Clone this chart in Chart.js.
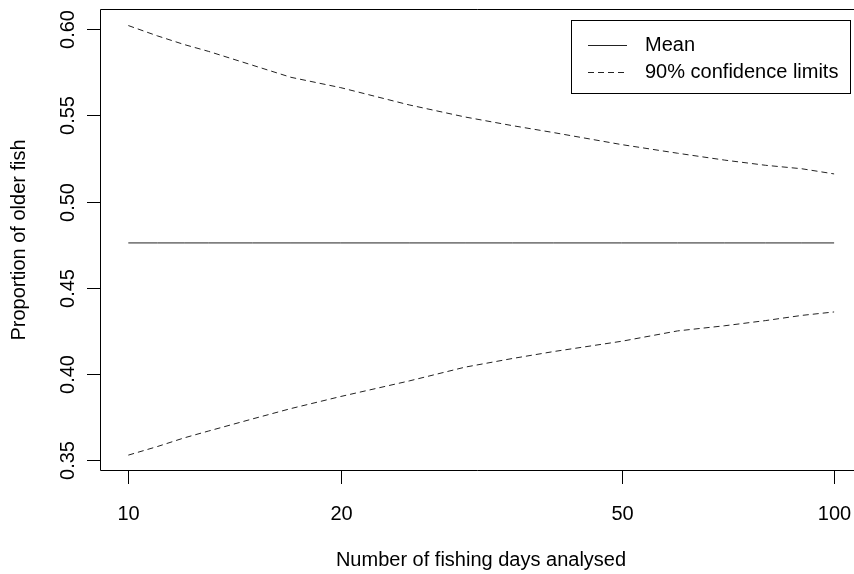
<!DOCTYPE html>
<html>
<head>
<meta charset="utf-8">
<script src="https://cdn.jsdelivr.net/npm/chart.js@4/dist/chart.umd.min.js"></script>
<style>
  html, body { margin: 0; padding: 0; background: #fff; }
  canvas { display: block; }
</style>
</head>
<body>
<canvas id="chart" width="854" height="574"></canvas>
<script>
// number of fishing days (x, log axis)
const days = [10, 11, 12, 13, 15, 17, 20, 25, 30, 35, 40, 50, 60, 70, 80, 90, 100];
// proportion of older fish
const meanProp = [0.476, 0.476, 0.476, 0.476, 0.476, 0.476, 0.476, 0.476, 0.476, 0.476, 0.476, 0.476, 0.476, 0.476, 0.476, 0.476, 0.476];
const upperLimit = [0.602, 0.596, 0.591, 0.587, 0.579, 0.572, 0.566, 0.556, 0.549, 0.544, 0.540, 0.533, 0.528, 0.524, 0.521, 0.519, 0.516];
const lowerLimit = [0.353, 0.358, 0.363, 0.367, 0.374, 0.380, 0.387, 0.396, 0.404, 0.409, 0.413, 0.419, 0.425, 0.428, 0.431, 0.434, 0.436];

const xTicks = [10, 20, 50, 100];
const yTicks = [0.35, 0.40, 0.45, 0.50, 0.55, 0.60];
const yTickLabels = ['0.35', '0.40', '0.45', '0.50', '0.55', '0.60'];

const FONT = '20px "Liberation Sans", Arial, sans-serif';
const INK = '#000';

function pts(ys) {
    return days.map((d, i) => ({ x: d, y: ys[i] }));
}

// R style box, axes and legend drawn on top of the library scales
const baseAxes = {
    id: 'baseAxes',
    afterDraw(chart) {
        const ctx = chart.ctx;
        const a = chart.chartArea;
        const xs = chart.scales.x;
        const ys = chart.scales.y;
        ctx.save();
        ctx.strokeStyle = INK;
        ctx.fillStyle = INK;
        ctx.lineWidth = 1;
        ctx.font = FONT;

        // box (right side falls outside the picture)
        ctx.beginPath();
        ctx.moveTo(chart.width, a.top + 0.5);
        ctx.lineTo(a.left + 0.5, a.top + 0.5);
        ctx.lineTo(a.left + 0.5, a.bottom - 0.5);
        ctx.lineTo(chart.width, a.bottom - 0.5);
        ctx.stroke();

        // x axis
        ctx.textAlign = 'center';
        ctx.textBaseline = 'middle';
        xTicks.forEach(v => {
            const px = Math.round(xs.getPixelForValue(v)) + 0.5;
            ctx.beginPath();
            ctx.moveTo(px, a.bottom);
            ctx.lineTo(px, a.bottom + 13);
            ctx.stroke();
            ctx.fillText(String(v), px, 514);
        });
        ctx.fillText('Number of fishing days analysed', (a.left + 862) / 2, 560);

        // y axis
        yTicks.forEach((v, i) => {
            const py = Math.round(ys.getPixelForValue(v)) + 0.5;
            ctx.beginPath();
            ctx.moveTo(a.left - 13, py);
            ctx.lineTo(a.left, py);
            ctx.stroke();
            ctx.save();
            ctx.translate(68, py);
            ctx.rotate(-Math.PI / 2);
            ctx.fillText(yTickLabels[i], 0, 0);
            ctx.restore();
        });
        ctx.save();
        ctx.translate(19, (a.top + a.bottom) / 2);
        ctx.rotate(-Math.PI / 2);
        ctx.fillText('Proportion of older fish', 0, 0);
        ctx.restore();

        // legend
        ctx.strokeRect(571.5, 20.5, 279, 73);
        const rows = [chart.data.datasets[0], chart.data.datasets[1]];
        rows.forEach((ds, i) => {
            const y = Math.round(45 + i * 26.5) + 0.5;
            ctx.save();
            ctx.strokeStyle = ds.borderColor;
            ctx.setLineDash(ds.borderDash || []);
            ctx.beginPath();
            ctx.moveTo(588, y);
            ctx.lineTo(627, y);
            ctx.stroke();
            ctx.restore();
            ctx.textAlign = 'left';
            ctx.fillText(ds.label, 645, y);
        });
        ctx.restore();
    }
};

new Chart(document.getElementById('chart').getContext('2d'), {
    type: 'line',
    data: {
        datasets: [
            {
                label: 'Mean',
                data: pts(meanProp),
                borderColor: '#222',
                borderWidth: 1,
                pointRadius: 0
            },
            {
                label: '90% confidence limits',
                data: pts(upperLimit),
                borderColor: '#222',
                borderWidth: 1,
                borderDash: [6, 4],
                pointRadius: 0
            },
            {
                label: '90% confidence limits (lower)',
                data: pts(lowerLimit),
                borderColor: '#222',
                borderWidth: 1,
                borderDash: [6, 4],
                pointRadius: 0
            }
        ]
    },
    options: {
        responsive: false,
        animation: false,
        devicePixelRatio: 1,
        layout: { padding: { left: 100, top: 9, right: 0, bottom: 103 } },
        plugins: {
            legend: { display: false },
            tooltip: { enabled: false }
        },
        scales: {
            x: { type: 'logarithmic', min: 9.118, max: 106.7, display: false },
            y: { type: 'linear', min: 0.3438, max: 0.6116, display: false }
        }
    },
    plugins: [baseAxes]
});
</script>
</body>
</html>
